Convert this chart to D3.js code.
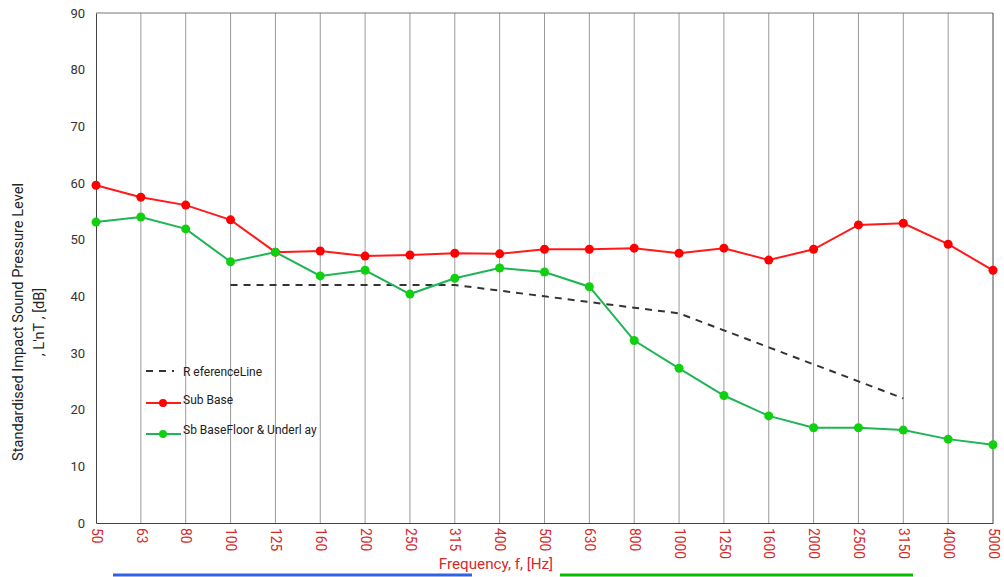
<!DOCTYPE html>
<html><head><meta charset="utf-8">
<script src="https://cdn.jsdelivr.net/npm/d3@7"></script>
<style>body{margin:0;background:#fff;} svg{display:block;font-family:Roboto, "Liberation Sans", sans-serif;}</style>
</head><body>
<svg id="c" width="1004" height="577"></svg>
<script>
const categories = ["50","63","80","100","125","160","200","250","315","400","500","630","800","1000","1250","1600","2000","2500","3150","4000","5000"];
const yTicks = [0,10,20,30,40,50,60,70,80,90];
const referenceLine = [null,null,null,42,42,42,42,42,42,41,40,39,38,37,34,31,28,25,22,null,null];
const subBase = [59.6,57.5,56.1,53.5,47.8,48.0,47.1,47.3,47.6,47.5,48.3,48.3,48.5,47.6,48.5,46.4,48.3,52.6,52.9,49.2,44.6];
const subBaseFloor = [53.1,54.0,51.9,46.1,47.8,43.6,44.6,40.4,43.2,45.0,44.3,41.7,32.2,27.3,22.5,18.9,16.8,16.8,16.4,14.8,13.8];
const legendLabels = ["R eferenceLine","Sub Base","Sb BaseFloor & Underl ay"];

const svg = d3.select("#c");
const L = 96, R = 993, T = 13, B = 523;
const x = d3.scalePoint().domain(categories).range([L, R]).padding(0);
const y = d3.scaleLinear().domain([0, 90]).range([B, T]);

// vertical gridlines
svg.append("g").selectAll("line").data(categories.slice(1, -1)).join("line")
  .attr("x1", d => x(d)).attr("x2", d => x(d)).attr("y1", T).attr("y2", B)
  .attr("stroke", "#9a9a9a").attr("stroke-width", 1);

// frame
svg.append("line").attr("x1", L).attr("x2", R).attr("y1", T).attr("y2", T).attr("stroke", "#777");
svg.append("line").attr("x1", R).attr("x2", R).attr("y1", T).attr("y2", B).attr("stroke", "#444");

// y axis
const ya = svg.append("g").attr("transform", `translate(${L},0)`)
  .call(d3.axisLeft(y).tickValues(yTicks).tickSize(0).tickPadding(11));
ya.select(".domain").attr("stroke", "#444");
ya.selectAll("text").attr("font-size", 13).attr("fill", "#333").attr("font-family", "Roboto");

// x axis
const xa = svg.append("g").attr("transform", `translate(0,${B})`)
  .call(d3.axisBottom(x).tickSize(0));
xa.select(".domain").attr("stroke", "#444");
xa.selectAll("text").attr("font-size", 13.8).attr("fill", "#d42a2a").attr("font-family", "Roboto")
  .attr("transform", "rotate(90)").attr("text-anchor", "start").attr("dy", "0.35em").attr("x", 5).attr("y", 0);

// axis titles
svg.append("text").attr("transform", "translate(23,322) rotate(-90)").attr("text-anchor", "middle")
  .attr("font-size", 14.6).attr("fill", "#222").text("Standardised Impact Sound Pressure Level");
svg.append("text").attr("transform", "translate(44,322) rotate(-90)").attr("text-anchor", "middle")
  .attr("font-size", 14.6).attr("fill", "#222").text(", L'nT , [dB]");
svg.append("text").attr("x", 496).attr("y", 569).attr("text-anchor", "middle")
  .attr("font-size", 15.2).attr("fill", "#d42a2a").text("Frequency, f, [Hz]");

// bottom bars
svg.append("line").attr("x1", 113).attr("x2", 472).attr("y1", 575).attr("y2", 575).attr("stroke", "#2f62e6").attr("stroke-width", 3);
svg.append("line").attr("x1", 560).attr("x2", 913).attr("y1", 575).attr("y2", 575).attr("stroke", "#00c000").attr("stroke-width", 3);

const line = d3.line().defined(d => d[1] != null).x(d => x(d[0])).y(d => y(d[1]));
const pts = arr => categories.map((c, i) => [c, arr[i]]);

svg.append("path").datum(pts(referenceLine)).attr("d", line).attr("fill", "none")
  .attr("stroke", "#333").attr("stroke-width", 2).attr("stroke-dasharray", "7,6");

function series(arr, lc, dc) {
  svg.append("path").datum(pts(arr)).attr("d", line).attr("fill", "none").attr("stroke", lc).attr("stroke-width", 2);
  svg.append("g").selectAll("circle").data(pts(arr)).join("circle")
    .attr("cx", d => x(d[0])).attr("cy", d => y(d[1])).attr("r", 4.5).attr("fill", dc);
}
series(subBase, "#ff1a1a", "#ff0000");
series(subBaseFloor, "#1fb455", "#10d010");

// legend
const lg = svg.append("g");
lg.append("line").attr("x1", 146).attr("x2", 174).attr("y1", 371).attr("y2", 371).attr("stroke", "#333").attr("stroke-width", 2).attr("stroke-dasharray", "7,6");
lg.append("text").attr("x", 183).attr("y", 376).attr("font-size", 12).attr("fill", "#222").text(legendLabels[0]);
lg.append("line").attr("x1", 146).attr("x2", 181).attr("y1", 403).attr("y2", 403).attr("stroke", "#ff1a1a").attr("stroke-width", 2);
lg.append("circle").attr("cx", 163).attr("cy", 403).attr("r", 4).attr("fill", "#ff0000");
lg.append("text").attr("x", 183).attr("y", 404).attr("font-size", 12).attr("fill", "#222").text(legendLabels[1]);
lg.append("line").attr("x1", 146).attr("x2", 181).attr("y1", 434).attr("y2", 434).attr("stroke", "#1fb455").attr("stroke-width", 2);
lg.append("circle").attr("cx", 163).attr("cy", 434).attr("r", 4).attr("fill", "#10d010");
lg.append("text").attr("x", 183).attr("y", 434).attr("font-size", 12).attr("fill", "#222").text(legendLabels[2]);
</script>
</body></html>
